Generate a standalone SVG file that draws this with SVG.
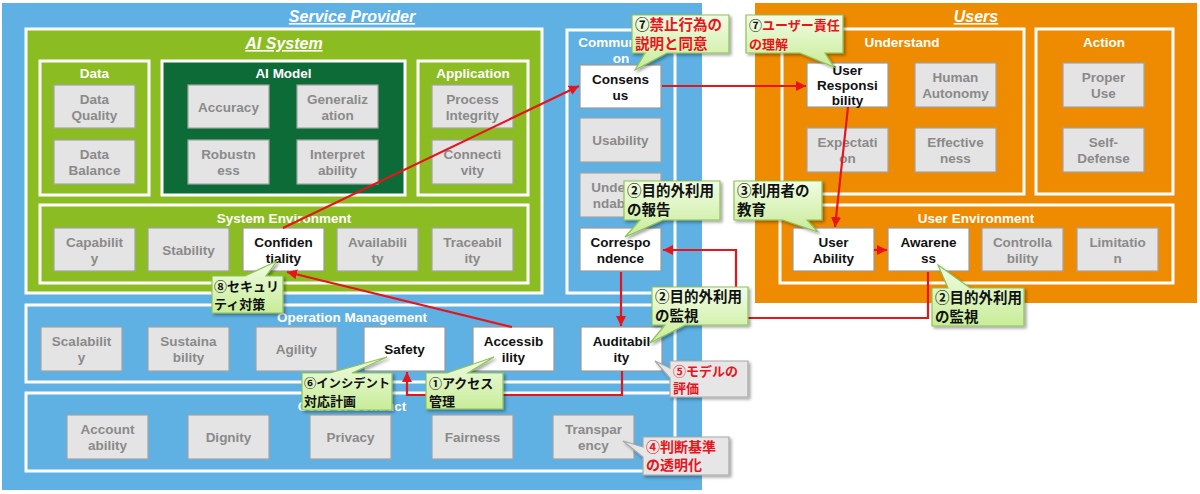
<svg xmlns="http://www.w3.org/2000/svg" width="1200" height="494" viewBox="0 0 1200 494">
<defs>
<style>
.t{font-family:"Liberation Sans",Arial,sans-serif;font-weight:bold;font-size:13.5px;text-anchor:middle}
.ti{fill:#fff}
.big{font-size:16px;font-style:italic;text-decoration:underline}
.g{fill:#8a8a8a}
.k{fill:#111}
.gb{fill:#e4e4e4;stroke:#a3a3a3;stroke-width:1.2}
.wb{fill:#fff;stroke:#9a9a9a;stroke-width:1.2}
.ct{fill:none;stroke:#fff;stroke-width:3}
.cn{fill:none;stroke:#e8141c;stroke-width:2.2}
.cl{fill:url(#gg);stroke:#8ec255;stroke-width:1.2;filter:url(#sh)}
.cg{fill:#e6e6e6;stroke:#a8a8a8;stroke-width:1.2;filter:url(#sh)}
.j{font-family:"Liberation Sans","Noto Sans CJK JP",sans-serif;font-size:15px;font-weight:bold}
.r{fill:#e8141c}
.b{fill:#111}
</style>
<linearGradient id="gg" x1="0" y1="0" x2="0" y2="1">
<stop offset="0" stop-color="#f1fce4"/>
<stop offset="1" stop-color="#c8ec98"/>
</linearGradient>
<filter id="sh" x="-20%" y="-20%" width="140%" height="150%">
<feDropShadow dx="2" dy="2" stdDeviation="1.5" flood-color="#000" flood-opacity="0.35"/>
</filter>
<marker id="ah" markerUnits="userSpaceOnUse" markerWidth="10" markerHeight="10" refX="10" refY="5" orient="auto">
<path d="M0,0 L10,5 L0,10 z" fill="#e8141c"/>
</marker>
</defs>
<rect x="0" y="0" width="1200" height="494" fill="#fff"/>

<g id="service-provider">
<rect x="2" y="3" width="700" height="487" fill="#5fb0e3"/>
<text class="t ti big" x="352" y="22">Service Provider</text>
</g>
<g id="users">
<rect x="755" y="3" width="442" height="300" fill="#ee8b00"/>
<text class="t ti big" x="976" y="22">Users</text>
</g>

<g id="ai-system">
<rect x="26" y="29" width="516" height="264" class="ct" style="fill:#8bbd23"/>
<text class="t ti big" x="284" y="49">AI System</text>
</g>
<g id="data">
<rect x="40" y="61" width="109" height="134" class="ct" style="fill:#8bbd23"/>
<text class="t ti" x="94.5" y="78">Data</text>
</g>
<g id="ai-model">
<rect x="162" y="61" width="243" height="134" class="ct" style="fill:#0c6b36"/>
<text class="t ti" x="283.5" y="78">AI Model</text>
</g>
<g id="application">
<rect x="418" y="61" width="110" height="134" class="ct" style="fill:#8bbd23"/>
<text class="t ti" x="473" y="78">Application</text>
</g>
<g id="system-environment">
<rect x="40" y="205" width="488" height="78" class="ct" style="fill:#8bbd23"/>
<text class="t ti" x="284" y="223">System Environment</text>
</g>
<g id="communication">
<rect x="567" y="30" width="108" height="263" class="ct" style="fill:#5fb0e3"/>
<text class="t ti" x="621" y="47">Communicati</text>
<text class="t ti" x="621" y="63">on</text>
</g>
<g id="operation-management">
<rect x="26" y="305" width="649" height="77" class="ct" style="fill:#5fb0e3"/>
<text class="t ti" x="352" y="322">Operation Management</text>
</g>
<g id="code-of-conduct">
<rect x="26" y="393" width="649" height="78" class="ct" style="fill:#5fb0e3"/>
<text class="t ti" x="352" y="411">Code of Conduct</text>
</g>
<g id="understand">
<rect x="782" y="29" width="242" height="165" class="ct" style="fill:#ee8b00"/>
<text class="t ti" x="902" y="47">Understand</text>
</g>
<g id="action">
<rect x="1036" y="29" width="137" height="165" class="ct" style="fill:#ee8b00"/>
<text class="t ti" x="1104" y="47">Action</text>
</g>
<g id="user-environment">
<rect x="780" y="205" width="393" height="78" class="ct" style="fill:#ee8b00"/>
<text class="t ti" x="976" y="223">User Environment</text>
</g>

<g id="data-quality"><rect class="gb" x="54" y="85" width="81" height="43"/><text class="t g" x="94.5" y="104">Data</text><text class="t g" x="94.5" y="120">Quality</text></g>
<g id="data-balance"><rect class="gb" x="54" y="140" width="81" height="44"/><text class="t g" x="94.5" y="159">Data</text><text class="t g" x="94.5" y="175">Balance</text></g>
<g id="accuracy"><rect class="gb" x="188" y="85" width="81" height="43"/><text class="t g" x="228.5" y="112">Accuracy</text></g>
<g id="generalization"><rect class="gb" x="297" y="85" width="81" height="43"/><text class="t g" x="337.5" y="104">Generaliz</text><text class="t g" x="337.5" y="120">ation</text></g>
<g id="robustness"><rect class="gb" x="188" y="140" width="81" height="44"/><text class="t g" x="228.5" y="159">Robustn</text><text class="t g" x="228.5" y="175">ess</text></g>
<g id="interpretability"><rect class="gb" x="297" y="140" width="81" height="44"/><text class="t g" x="337.5" y="159">Interpret</text><text class="t g" x="337.5" y="175">ability</text></g>
<g id="process-integrity"><rect class="gb" x="432" y="85" width="81" height="43"/><text class="t g" x="472.5" y="104">Process</text><text class="t g" x="472.5" y="120">Integrity</text></g>
<g id="connectivity"><rect class="gb" x="432" y="140" width="81" height="44"/><text class="t g" x="472.5" y="159">Connecti</text><text class="t g" x="472.5" y="175">vity</text></g>

<g id="capability"><rect class="gb" x="54" y="228" width="81" height="43"/><text class="t g" x="94.5" y="246.5">Capabilit</text><text class="t g" x="94.5" y="262.5">y</text></g>
<g id="stability"><rect class="gb" x="148" y="228" width="81" height="43"/><text class="t g" x="188.5" y="254.5">Stability</text></g>
<g id="confidentiality"><rect class="wb" x="243" y="228" width="81" height="43"/><text class="t k" x="283.5" y="246.5">Confiden</text><text class="t k" x="283.5" y="262.5">tiality</text></g>
<g id="availability"><rect class="gb" x="337" y="228" width="81" height="43"/><text class="t g" x="377.5" y="246.5">Availabili</text><text class="t g" x="377.5" y="262.5">ty</text></g>
<g id="traceability"><rect class="gb" x="432" y="228" width="81" height="43"/><text class="t g" x="472.5" y="246.5">Traceabil</text><text class="t g" x="472.5" y="262.5">ity</text></g>

<g id="consensus"><rect class="wb" x="580" y="65" width="81" height="43"/><text class="t k" x="620.5" y="83.5">Consens</text><text class="t k" x="620.5" y="99.5">us</text></g>
<g id="usability"><rect class="gb" x="580" y="118" width="81" height="44"/><text class="t g" x="620.5" y="145">Usability</text></g>
<g id="understandability"><rect class="gb" x="580" y="173" width="81" height="44"/><text class="t g" x="620.5" y="192">Understa</text><text class="t g" x="620.5" y="208">ndability</text></g>
<g id="correspondence"><rect class="wb" x="580" y="228" width="81" height="43"/><text class="t k" x="620.5" y="246.5">Correspo</text><text class="t k" x="620.5" y="262.5">ndence</text></g>

<g id="scalability"><rect class="gb" x="41" y="327" width="81" height="44"/><text class="t g" x="81.5" y="346">Scalabilit</text><text class="t g" x="81.5" y="362">y</text></g>
<g id="sustainability"><rect class="gb" x="148" y="327" width="81" height="44"/><text class="t g" x="188.5" y="346">Sustaina</text><text class="t g" x="188.5" y="362">bility</text></g>
<g id="agility"><rect class="gb" x="256" y="327" width="81" height="44"/><text class="t g" x="296.5" y="354">Agility</text></g>
<g id="safety"><rect class="wb" x="364" y="327" width="81" height="44"/><text class="t k" x="404.5" y="354">Safety</text></g>
<g id="accessibility"><rect class="wb" x="473" y="327" width="81" height="44"/><text class="t k" x="513.5" y="346">Accessib</text><text class="t k" x="513.5" y="362">ility</text></g>
<g id="auditability"><rect class="wb" x="581" y="327" width="81" height="44"/><text class="t k" x="621.5" y="346">Auditabil</text><text class="t k" x="621.5" y="362">ity</text></g>

<g id="accountability"><rect class="gb" x="67" y="415" width="81" height="44"/><text class="t g" x="107.5" y="434">Account</text><text class="t g" x="107.5" y="450">ability</text></g>
<g id="dignity"><rect class="gb" x="188" y="415" width="81" height="44"/><text class="t g" x="228.5" y="442">Dignity</text></g>
<g id="privacy"><rect class="gb" x="310" y="415" width="81" height="44"/><text class="t g" x="350.5" y="442">Privacy</text></g>
<g id="fairness"><rect class="gb" x="432" y="415" width="81" height="44"/><text class="t g" x="472.5" y="442">Fairness</text></g>
<g id="transparency"><rect class="gb" x="553" y="415" width="81" height="44"/><text class="t g" x="593.5" y="434">Transpar</text><text class="t g" x="593.5" y="450">ency</text></g>

<g id="user-responsibility"><rect class="wb" x="807" y="63" width="81" height="44"/><text class="t k" x="847.5" y="75">User</text><text class="t k" x="847.5" y="90">Responsi</text><text class="t k" x="847.5" y="105">bility</text></g>
<g id="human-autonomy"><rect class="gb" x="915" y="63" width="81" height="44"/><text class="t g" x="955.5" y="82">Human</text><text class="t g" x="955.5" y="98">Autonomy</text></g>
<g id="expectation"><rect class="gb" x="807" y="128" width="81" height="44"/><text class="t g" x="847.5" y="147">Expectati</text><text class="t g" x="847.5" y="163">on</text></g>
<g id="effectiveness"><rect class="gb" x="915" y="128" width="81" height="44"/><text class="t g" x="955.5" y="147">Effective</text><text class="t g" x="955.5" y="163">ness</text></g>
<g id="proper-use"><rect class="gb" x="1063" y="63" width="81" height="44"/><text class="t g" x="1103.5" y="82">Proper</text><text class="t g" x="1103.5" y="98">Use</text></g>
<g id="self-defense"><rect class="gb" x="1063" y="128" width="81" height="44"/><text class="t g" x="1103.5" y="147">Self-</text><text class="t g" x="1103.5" y="163">Defense</text></g>

<g id="user-ability"><rect class="wb" x="793" y="228" width="81" height="43"/><text class="t k" x="833.5" y="246.5">User</text><text class="t k" x="833.5" y="262.5">Ability</text></g>
<g id="awareness"><rect class="wb" x="888" y="228" width="81" height="43"/><text class="t k" x="928.5" y="246.5">Awarene</text><text class="t k" x="928.5" y="262.5">ss</text></g>
<g id="controllability"><rect class="gb" x="982" y="228" width="81" height="43"/><text class="t g" x="1022.5" y="246.5">Controlla</text><text class="t g" x="1022.5" y="262.5">bility</text></g>
<g id="limitation"><rect class="gb" x="1077" y="228" width="81" height="43"/><text class="t g" x="1117.5" y="246.5">Limitatio</text><text class="t g" x="1117.5" y="262.5">n</text></g>

<g id="connectors">
<path class="cn" d="M283,228 L579,86" marker-end="url(#ah)"/>
<path class="cn" d="M662,86 L806,86" marker-end="url(#ah)"/>
<path class="cn" d="M848,107 L835,227" marker-end="url(#ah)"/>
<path class="cn" d="M874,250 L887,250" marker-end="url(#ah)"/>
<path class="cn" d="M928,272 V318 H736 V250 H663" marker-end="url(#ah)"/>
<path class="cn" d="M621,272 V326" marker-end="url(#ah)"/>
<path class="cn" d="M622,371 V395 H407 V372" marker-end="url(#ah)"/>
<path class="cn" d="M512,327 L287,272" marker-end="url(#ah)"/>
</g>

<g id="callout-7a">
<path class="cl" d="M632,15 H729 V53 H667 L635,70 L645,53 H632 Z"/>
<text class="j" x="635" y="30" style="font-size:14.5px"><tspan class="b">⑦</tspan><tspan class="r">禁止行為の</tspan></text>
<text class="j r" x="635" y="49" style="font-size:14.5px">説明と同意</text>
</g>
<g id="callout-7b">
<path class="cl" d="M746,15 H843 V53 H825 L834,67 L800,53 H746 Z"/>
<text class="j" x="749" y="30" style="font-size:13px"><tspan class="b">⑦</tspan><tspan class="r">ユーザー責任</tspan></text>
<text class="j r" x="749" y="49" style="font-size:13px">の理解</text>
</g>
<g id="callout-2a">
<path class="cl" d="M624,181 H720 V220 H663 L625,237 L640,220 H624 Z"/>
<text class="j b" x="627" y="196" style="font-size:14.5px">②目的外利用</text>
<text class="j b" x="627" y="215" style="font-size:14.5px">の報告</text>
</g>
<g id="callout-3">
<path class="cl" d="M734,181 H822 V220 H807 L818,232 L783,220 H734 Z"/>
<text class="j b" x="737" y="196" style="font-size:14.5px">③利用者の</text>
<text class="j b" x="737" y="215" style="font-size:14.5px">教育</text>
</g>
<g id="callout-2b">
<path class="cl" d="M652,287 H748 V325 H685 L650,343 L665,325 H652 Z"/>
<text class="j b" x="655" y="302" style="font-size:14.5px">②目的外利用</text>
<text class="j b" x="655" y="321" style="font-size:14.5px">の監視</text>
</g>
<g id="callout-2c">
<path class="cl" d="M932,288 H948 L938,265 L970,288 H1024 V326 H932 Z"/>
<text class="j b" x="935" y="303" style="font-size:14.5px">②目的外利用</text>
<text class="j b" x="935" y="322" style="font-size:14.5px">の監視</text>
</g>
<g id="callout-8">
<path class="cl" d="M212,276 H245 L277,261 L266,276 H283 V313 H212 Z"/>
<text class="j b" x="214" y="291" style="font-size:13px">⑧セキュリ</text>
<text class="j b" x="214" y="309" style="font-size:13px">ティ対策</text>
</g>
<g id="callout-6">
<path class="cl" d="M302,373 H330 L387,357 L352,373 H392 V410 H302 Z"/>
<text class="j b" x="304" y="388" style="font-size:12.3px">⑥インシデント</text>
<text class="j b" x="304" y="406" style="font-size:13px">対応計画</text>
</g>
<g id="callout-1">
<path class="cl" d="M426,373 H447 L494,357 L468,373 H503 V409 H426 Z"/>
<text class="j b" x="429" y="388" style="font-size:13px">①アクセス</text>
<text class="j b" x="429" y="406" style="font-size:13px">管理</text>
</g>
<g id="callout-5">
<path class="cg" d="M670,361 H748 V397 H670 V378 L655,361 L670,368 Z"/>
<text class="j r" x="673" y="376" style="font-size:13px">⑤モデルの</text>
<text class="j r" x="673" y="393" style="font-size:13px">評価</text>
</g>
<g id="callout-4">
<path class="cg" d="M643,437 H729 V475 H643 V457 L623,441 L643,447 Z"/>
<text class="j r" x="646" y="452" style="font-size:14px">④判断基準</text>
<text class="j r" x="646" y="470" style="font-size:14px">の透明化</text>
</g>
</svg>
